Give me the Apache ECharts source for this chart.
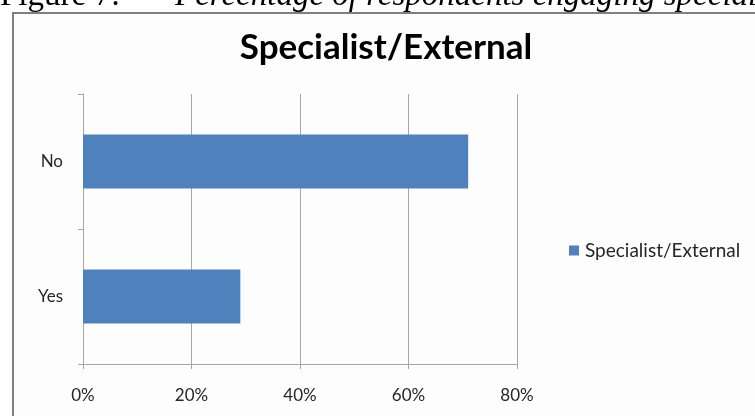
<!DOCTYPE html>
<html>
<head>
<meta charset="utf-8">
<script src="https://cdn.jsdelivr.net/npm/echarts@6/dist/echarts.min.js"></script>
<style>
  html, body { margin: 0; padding: 0; background: #ffffff; }
  #chart { width: 755px; height: 416px; }
</style>
</head>
<body>
<div id="chart"></div>
<script>
// Survey answers: share of respondents engaging a specialist / external party
const categories = ['Yes', 'No'];
const seriesName = 'Specialist/External';
const shares = [29, 71];
const xTicks = [0, 20, 40, 60, 80];

const chart = echarts.init(document.getElementById('chart'));

const uiFont = 'Lato, "Open Sans", sans-serif';
const serifFont = '"Liberation Serif", "Times New Roman", serif';
const axisGrey = '#a6a6a6';
const labelGrey = '#262626';

chart.setOption({
  animation: false,
  backgroundColor: '#ffffff',
  title: {
    text: 'Specialist/External',
    left: 381,
    textAlign: 'center',
    top: 25,
    textStyle: { fontFamily: uiFont, fontWeight: 'bold', fontSize: 35, color: '#000000' }
  },
  legend: {
    data: [seriesName],
    left: 564,
    top: 236,
    icon: 'rect',
    itemWidth: 10,
    itemHeight: 10,
    itemGap: 6,
    textStyle: { fontFamily: uiFont, fontSize: 19, color: labelGrey, padding: [0, 0, 0, 1] }
  },
  grid: { left: 83, right: 238, top: 94, bottom: 52, containLabel: false },
  xAxis: {
    type: 'value',
    min: xTicks[0],
    max: xTicks[xTicks.length - 1],
    interval: xTicks[1] - xTicks[0],
    axisLine: { show: true, lineStyle: { color: axisGrey, width: 1 } },
    axisTick: { show: true, length: 5, lineStyle: { color: axisGrey } },
    splitLine: { show: true, lineStyle: { color: axisGrey, width: 1 } },
    axisLabel: {
      formatter: '{value}%',
      margin: 23,
      fontFamily: uiFont,
      fontSize: 17,
      color: labelGrey
    }
  },
  yAxis: {
    type: 'category',
    data: categories,
    axisLine: { show: true, lineStyle: { color: axisGrey, width: 1 } },
    axisTick: { show: true, length: 5, lineStyle: { color: axisGrey } },
    axisLabel: { margin: 20, fontFamily: uiFont, fontSize: 17, color: labelGrey }
  },
  series: [{
    name: seriesName,
    type: 'bar',
    data: shares,
    barCategoryGap: '60%',
    itemStyle: { color: '#4f81bd' }
  }],
  graphic: [
    {
      type: 'rect',
      shape: { x: 13, y: 13, width: 760, height: 420 },
      style: { fill: '#fdfdfd', stroke: '#7f7f7f', lineWidth: 2 },
      z: -10
    },
    {
      type: 'text',
      left: 0,
      top: -20,
      style: {
        text: 'Figure 7:',
        font: '33px ' + serifFont,
        fill: '#000000'
      }
    },
    {
      type: 'text',
      left: 175,
      top: -20,
      style: {
        text: 'Percentage of respondents engaging specialist/external',
        font: 'italic 33px ' + serifFont,
        fill: '#000000'
      }
    }
  ]
});
</script>
</body>
</html>
